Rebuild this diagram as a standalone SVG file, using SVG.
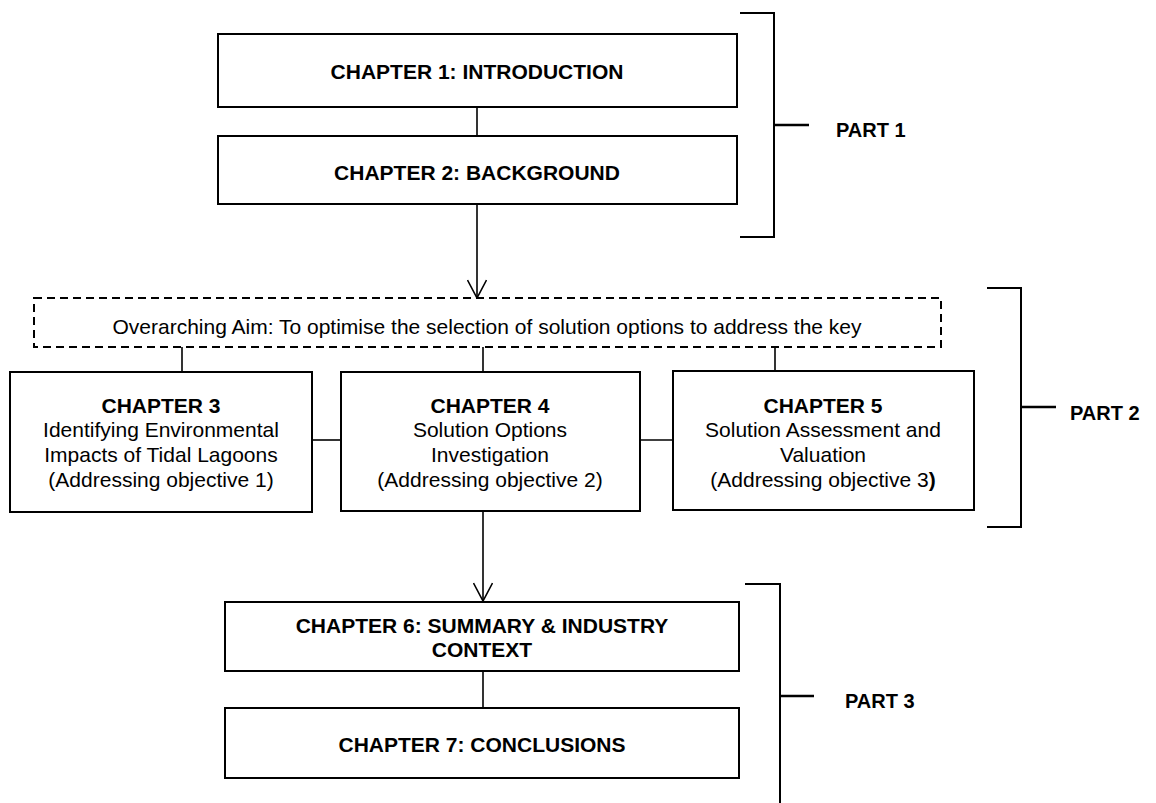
<svg xmlns="http://www.w3.org/2000/svg" width="1156" height="803" viewBox="0 0 1156 803">
  <style>
    .box { fill: #ffffff; stroke: #000000; stroke-width: 2; }
    .aim { fill: #ffffff; stroke: #000000; stroke-width: 2; stroke-dasharray: 8 5; }
    .link { fill: none; stroke: #000000; stroke-width: 1.6; }
    .bracket { fill: none; stroke: #000000; stroke-width: 2; }
    .tick { fill: none; stroke: #000000; stroke-width: 2.5; }
    text { font-family: "Liberation Sans", Arial, sans-serif; font-size: 21px; fill: #000000; text-anchor: middle; }
    .b { font-weight: bold; }
    .part { font-weight: bold; font-size: 20px; text-anchor: start; }
  </style>
  <defs>
    <!-- open V arrowhead, tip at the line end -->
    <marker id="vhead" viewBox="0 0 20 20" refX="19" refY="10" markerWidth="20" markerHeight="20" markerUnits="userSpaceOnUse" orient="auto">
      <path d="M1 0.5 L19 10 L1 19.5" fill="none" stroke="#000000" stroke-width="1.6"/>
    </marker>
  </defs>

  <rect width="1156" height="803" fill="#ffffff"/>

  <!-- connectors -->
  <g id="connectors">
    <line class="link" x1="477" y1="107" x2="477" y2="136"/>
    <line class="link" x1="477" y1="204" x2="477" y2="298" marker-end="url(#vhead)"/>
    <line class="link" x1="182" y1="347" x2="182" y2="372"/>
    <line class="link" x1="483" y1="347" x2="483" y2="372"/>
    <line class="link" x1="775" y1="347" x2="775" y2="371"/>
    <line class="link" x1="312" y1="440" x2="341" y2="440"/>
    <line class="link" x1="640" y1="440" x2="673" y2="440"/>
    <line class="link" x1="483" y1="511" x2="483" y2="601" marker-end="url(#vhead)"/>
    <line class="link" x1="483" y1="671" x2="483" y2="708"/>
  </g>

  <!-- part brackets -->
  <g id="part1">
    <path class="bracket" d="M740 13 H774 V237 H740"/>
    <line class="tick" x1="774" y1="125" x2="809" y2="125"/>
    <text class="part" x="836" y="137">PART 1</text>
  </g>
  <g id="part2">
    <path class="bracket" d="M987 288 H1021 V527 H987"/>
    <line class="tick" x1="1021" y1="407" x2="1056" y2="407"/>
    <text class="part" x="1070" y="420">PART 2</text>
  </g>
  <g id="part3">
    <path class="bracket" d="M745 584 H780 V803"/>
    <line class="tick" x1="780" y1="696" x2="814" y2="696"/>
    <text class="part" x="845" y="708">PART 3</text>
  </g>

  <!-- chapter nodes -->
  <g id="ch1">
    <rect class="box" x="218" y="34" width="519" height="73"/>
    <text class="b" x="477" y="79">CHAPTER 1: INTRODUCTION</text>
  </g>
  <g id="ch2">
    <rect class="box" x="218" y="136" width="519" height="68"/>
    <text class="b" x="477" y="180">CHAPTER 2: BACKGROUND</text>
  </g>
  <g id="aim">
    <rect class="aim" x="34" y="298" width="907" height="49"/>
    <text x="487" y="334">Overarching Aim: To optimise the selection of solution options to address the key</text>
  </g>
  <g id="ch3">
    <rect class="box" x="10" y="372" width="302" height="140"/>
    <text class="b" x="161" y="413">CHAPTER 3</text>
    <text x="161" y="437">Identifying Environmental</text>
    <text x="161" y="462">Impacts of Tidal Lagoons</text>
    <text x="161" y="487">(Addressing objective 1)</text>
  </g>
  <g id="ch4">
    <rect class="box" x="341" y="372" width="299" height="139"/>
    <text class="b" x="490" y="413">CHAPTER 4</text>
    <text x="490" y="437">Solution Options</text>
    <text x="490" y="462">Investigation</text>
    <text x="490" y="487">(Addressing objective 2)</text>
  </g>
  <g id="ch5">
    <rect class="box" x="673" y="371" width="301" height="139"/>
    <text class="b" x="823" y="413">CHAPTER 5</text>
    <text x="823" y="437">Solution Assessment and</text>
    <text x="823" y="462">Valuation</text>
    <text x="823" y="487">(Addressing objective 3<tspan class="b">)</tspan></text>
  </g>
  <g id="ch6">
    <rect class="box" x="225" y="602" width="514" height="69"/>
    <text class="b" x="482" y="633">CHAPTER 6: SUMMARY &amp; INDUSTRY</text>
    <text class="b" x="482" y="657">CONTEXT</text>
  </g>
  <g id="ch7">
    <rect class="box" x="225" y="708" width="514" height="70"/>
    <text class="b" x="482" y="752">CHAPTER 7: CONCLUSIONS</text>
  </g>
</svg>
